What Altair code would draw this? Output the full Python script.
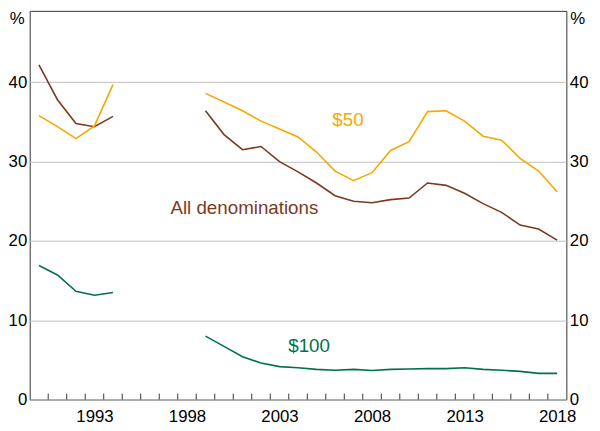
import altair as alt
import pandas as pd

# ---- data ----
years1 = [1990, 1991, 1992, 1993, 1994]
all1 = [42.2, 37.8, 34.8, 34.4, 35.7]
fifty1 = [35.8, 34.4, 32.9, 34.5, 39.7]
hundred1 = [16.9, 15.7, 13.65, 13.15, 13.5]

years2 = list(range(1999, 2019))
all2 = [36.4, 33.4, 31.5, 31.9, 30.0, 28.7, 27.3, 25.7, 25.0, 24.8,
        25.2, 25.4, 27.3, 27.0, 26.0, 24.7, 23.6, 22.0, 21.5, 20.1]
fifty2 = [38.6, 37.5, 36.4, 35.1, 34.1, 33.1, 31.2, 28.8, 27.6, 28.6,
          31.4, 32.5, 36.3, 36.4, 35.1, 33.2, 32.7, 30.4, 28.8, 26.2]
hundred2 = [8.0, 6.7, 5.4, 4.6, 4.15, 4.0, 3.8, 3.7, 3.8, 3.65,
            3.8, 3.85, 3.9, 3.9, 4.0, 3.8, 3.7, 3.55, 3.3, 3.3]

series_names = ["All denominations", "$50", "$100"]
series_colors = ["#7B3A1E", "#F7A800", "#00714A"]

tick_years = list(range(1991, 2019))
label_years = [1993, 1998, 2003, 2008, 2013, 2018]

ann_text = ["$50", "All denominations", "$100"]
ann_x = [2007.2, 2001.6, 2005.1]
ann_y = [35.2, 24.1, 6.8]

FONT = "Liberation Sans"

rows = []
for seg, yrs, groups in [("a", years1, [all1, fifty1, hundred1]),
                         ("b", years2, [all2, fifty2, hundred2])]:
    for name, vals in zip(series_names, groups):
        for yr, v in zip(yrs, vals):
            rows.append({"x": yr + 0.5, "value": v, "series": name,
                         "seg": seg + name})
df = pd.DataFrame(rows)

xscale = alt.Scale(domain=[1990, 2019], nice=False, zero=False)
yscale = alt.Scale(domain=[0, 49], nice=False)
cscale = alt.Scale(domain=series_names, range=series_colors)

xaxis = alt.Axis(values=[y + 0.5 for y in label_years],
                 labelExpr="floor(datum.value)", tickSize=0, domain=False,
                 grid=False, labelPadding=9, labelFontSize=17,
                 labelFont=FONT, labelColor="#000", title=None)


def xenc():
    return alt.X("x:Q", scale=xscale, axis=xaxis)


lines = alt.Chart(df).mark_line(strokeWidth=1.6).encode(
    x=xenc(),
    y=alt.Y("value:Q", scale=yscale,
            axis=alt.Axis(orient="left", values=[0, 10, 20, 30, 40],
                          grid=True, gridColor="#C0C0C0", gridWidth=1,
                          tickSize=0, domain=False, labelPadding=3,
                          labelFontSize=17, labelFont=FONT,
                          labelColor="#000", title=None)),
    color=alt.Color("series:N", scale=cscale, legend=None),
    detail="seg:N",
)

right = alt.Chart(df).mark_point(opacity=0).encode(
    x=xenc(),
    y=alt.Y("value:Q", scale=yscale,
            axis=alt.Axis(orient="right", values=[0, 10, 20, 30, 40],
                          grid=False, tickSize=0, domain=False,
                          labelPadding=3, labelFontSize=17,
                          labelFont=FONT, labelColor="#000", title=None)),
)

ticks_df = pd.DataFrame({"x": tick_years})
ticks = alt.Chart(ticks_df).mark_rule(color="#333", strokeWidth=1).encode(
    x=xenc(),
    y=alt.value(394),
    y2=alt.value(388),
)

ann_df = pd.DataFrame({"text": ann_text, "x": ann_x, "value": ann_y,
                       "series": ["$50", "All denominations", "$100"]})
ann = alt.Chart(ann_df).mark_text(fontSize=19, font=FONT,
                                  align="center", baseline="middle").encode(
    x=xenc(),
    y=alt.Y("value:Q", scale=yscale, axis=None),
    text="text:N",
    color=alt.Color("series:N", scale=cscale, legend=None),
)

pct_left = alt.Chart(pd.DataFrame({"t": ["%"]})).mark_text(
    fontSize=17, font=FONT, align="right", baseline="top", color="#000"
).encode(x=alt.value(-5), y=alt.value(0), text="t:N")
pct_right = alt.Chart(pd.DataFrame({"t": ["%"]})).mark_text(
    fontSize=17, font=FONT, align="left", baseline="top", color="#000"
).encode(x=alt.value(548), y=alt.value(0), text="t:N")

chart = alt.layer(lines, right, ticks, ann, pct_left, pct_right).resolve_scale(
    y="independent"
).properties(
    width=544, height=394,
    autosize=alt.AutoSizeParams(type="none"),
    padding={"left": 22, "top": 0, "right": 26, "bottom": 29},
).configure_view(stroke="#333", strokeWidth=1)

chart.save("out.html", embed_options={"renderer": "svg", "actions": False})
